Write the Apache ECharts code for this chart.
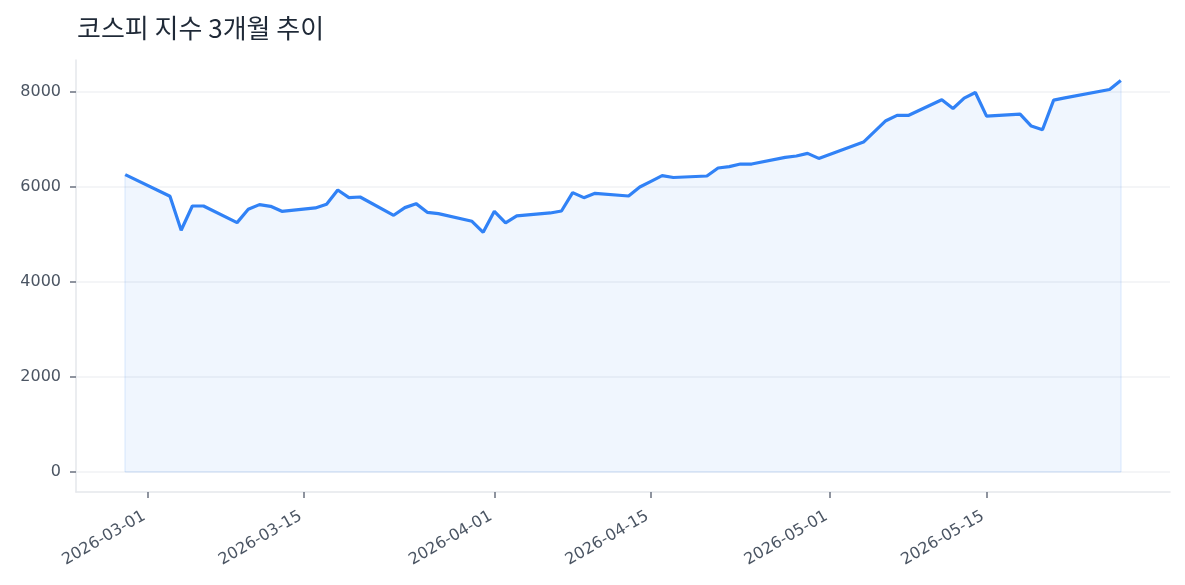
<!DOCTYPE html>
<html>
<head>
<meta charset="utf-8">
<script src="https://cdn.jsdelivr.net/npm/echarts@6/dist/echarts.min.js"></script>
<style>
  html, body { margin: 0; padding: 0; background: #fff; }
  #main { width: 1185px; height: 585px; }
</style>
</head>
<body>
<div id="main"></div>
<script>
// 코스피 일별 종가 (2026-02-27 ~ 2026-05-27)
const dates = [
  '2026-02-27', '2026-03-03', '2026-03-04', '2026-03-05', '2026-03-06',
  '2026-03-09', '2026-03-10', '2026-03-11', '2026-03-12', '2026-03-13',
  '2026-03-16', '2026-03-17', '2026-03-18', '2026-03-19', '2026-03-20',
  '2026-03-23', '2026-03-24', '2026-03-25', '2026-03-26', '2026-03-27',
  '2026-03-30', '2026-03-31', '2026-04-01', '2026-04-02', '2026-04-03',
  '2026-04-06', '2026-04-07', '2026-04-08', '2026-04-09', '2026-04-10',
  '2026-04-13', '2026-04-14', '2026-04-15', '2026-04-16', '2026-04-17',
  '2026-04-20', '2026-04-21', '2026-04-22', '2026-04-23', '2026-04-24',
  '2026-04-27', '2026-04-28', '2026-04-29', '2026-04-30', '2026-05-04',
  '2026-05-06', '2026-05-07', '2026-05-08', '2026-05-11', '2026-05-12',
  '2026-05-13', '2026-05-14', '2026-05-15', '2026-05-18', '2026-05-19',
  '2026-05-20', '2026-05-21', '2026-05-22', '2026-05-26', '2026-05-27'
]
const closes = [
  6250, 5795, 5081, 5591, 5591,
  5242, 5522, 5620, 5585, 5480,
  5550, 5627, 5927, 5767, 5780,
  5396, 5557, 5641, 5459, 5431,
  5270, 5039, 5480, 5235, 5382,
  5445, 5487, 5872, 5767, 5858,
  5802, 5990, 6110, 6229, 6190,
  6222, 6390, 6418, 6473, 6473,
  6614, 6642, 6697, 6592, 6935,
  7384, 7495, 7495, 7825, 7640,
  7859, 7978, 7481, 7522, 7271,
  7195, 7817, 7865, 8041, 8230
]
const xTicks = ['2026-03-01', '2026-03-15', '2026-04-01', '2026-04-15', '2026-05-01', '2026-05-15']
const yTicks = [0, 2000, 4000, 6000, 8000]

const DAY = 86400000
function toTime(s) {
  const p = s.split('-')
  return new Date(+p[0], +p[1] - 1, +p[2]).getTime()
}
function pad(n) { return n < 10 ? '0' + n : '' + n }
function fmtDate(v) {
  const d = new Date(v)
  return d.getFullYear() + '-' + pad(d.getMonth() + 1) + '-' + pad(d.getDate())
}

const xTickTimes = xTicks.map(toTime)
const first = toTime(dates[0])
const last = toTime(dates[dates.length - 1])
const lastClose = closes[closes.length - 1]

const chart = echarts.init(document.getElementById('main'))
chart.setOption({
  animation: false,
  backgroundColor: '#ffffff',
  textStyle: { fontFamily: 'Noto Sans CJK KR' },
  title: {
    text: '코스피 지수 3개월 추이',
    left: 72,
    top: 10,
    textStyle: {
      fontFamily: 'Noto Sans CJK KR',
      fontSize: 26,
      fontWeight: 'normal',
      color: '#1f2937'
    }
  },
  grid: {
    left: 76,
    right: 15,
    top: 60,
    bottom: 93,
    containLabel: false
  },
  xAxis: {
    // 날짜는 타임스탬프 값으로 표시 (눈금은 1일/15일)
    type: 'value',
    min: first - 4.4 * DAY,
    max: last + 4.4 * DAY,
    axisLine: { show: true, onZero: false, lineStyle: { color: '#e5e7eb', width: 1.5 } },
    axisTick: {
      show: true,
      customValues: xTickTimes,
      length: 6,
      lineStyle: { color: '#6b7280', width: 1.5 }
    },
    axisLabel: {
      customValues: xTickTimes,
      rotate: 30,
      margin: 21,
      padding: [0, 4, 0, 0],
      fontFamily: 'DejaVu Sans',
      fontSize: 16,
      color: '#4b5563',
      formatter: function (v) { return fmtDate(v) }
    },
    splitLine: { show: false }
  },
  yAxis: {
    type: 'value',
    min: -420,
    max: 8660,
    axisLine: { show: true, onZero: false, lineStyle: { color: '#e5e7eb', width: 1.5 } },
    axisTick: {
      show: true,
      customValues: yTicks,
      length: 6,
      lineStyle: { color: '#6b7280', width: 1.5 }
    },
    axisLabel: {
      customValues: yTicks,
      margin: 15,
      fontFamily: 'DejaVu Sans',
      fontSize: 16,
      color: '#4b5563',
      formatter: function (v) { return String(v) }
    },
    splitLine: {
      show: true,
      lineStyle: { color: '#f1f2f4', width: 1.5 }
    }
  },
  series: [
    {
      name: '코스피',
      type: 'line',
      data: dates.map((d, i) => [toTime(d), closes[i]]),
      showSymbol: false,
      symbol: 'none',
      lineStyle: { color: '#3182f6', width: 3.2 },
      areaStyle: { color: 'rgba(49, 130, 246, 0.1)', origin: 0 },
      z: 3,
      // 채움 영역 테두리 (옅은 선)
      markLine: {
        silent: true,
        symbol: 'none',
        label: { show: false },
        lineStyle: { color: 'rgba(49, 130, 246, 0.12)', width: 1.5, type: 'solid' },
        data: [
          [{ coord: [first, 0] }, { coord: [first, closes[0]] }],
          [{ coord: [last, 0] }, { coord: [last, lastClose] }],
          [{ coord: [first, 0] }, { coord: [last, 0] }]
        ]
      }
    }
  ]
})
</script>
</body>
</html>
